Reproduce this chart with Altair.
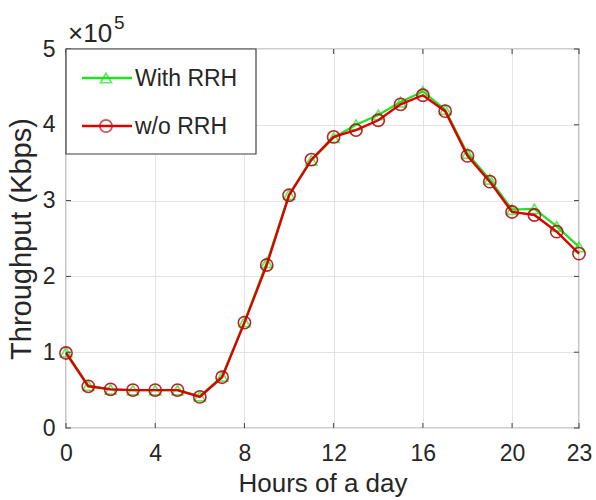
import altair as alt
import pandas as pd

hours = list(range(24))
with_rrh = [100000, 56000, 51000, 50000, 50000, 50000, 42000, 68000, 140000, 218000,
            308000, 353000, 383000, 400000, 413000, 430000, 444000, 420000, 362000,
            328000, 288000, 289000, 266000, 239000]
wo_rrh = [99000, 55000, 51000, 50000, 50000, 50000, 41000, 67000, 139000, 215000,
          307000, 354000, 384000, 393000, 406000, 427000, 439000, 418000, 359000,
          325000, 285000, 281000, 259000, 230000]
x_ticks = [0, 4, 8, 12, 16, 20, 23]
y_ticks = [0, 100000, 200000, 300000, 400000, 500000]
series_names = ["With RRH", "w/o RRH"]

GREEN = "#22e022"
RED = "#dd0000"
RED_MK = "#b01010"
AX = "#404040"
TXT = "#262626"
FONT = "Liberation Sans"
W, H = 513, 379

df_g = pd.DataFrame({"hour": hours, "tp": with_rrh})
df_r = pd.DataFrame({"hour": hours, "tp": wo_rrh})

xs = alt.Scale(domain=[0, 23], nice=False, zero=False)
ys = alt.Scale(domain=[0, 500000], nice=False)

x_enc = alt.X("hour:Q", scale=xs, axis=alt.Axis(
    values=x_ticks, title="Hours of a day", grid=True, gridColor="#e3e3e3",
    ticks=False, domain=False, labelPadding=14, titlePadding=5,
    labelFontSize=23, titleFontSize=26, labelFlush=False))
y_enc = alt.Y("tp:Q", scale=ys, axis=alt.Axis(
    values=y_ticks, labelExpr="datum.value / 100000", title="Throughput (Kbps)",
    grid=True, gridColor="#e3e3e3", ticks=False, domain=False, labelPadding=11,
    titlePadding=6, labelFontSize=23, titleFontSize=29))

base_g = alt.Chart(df_g)
base_r = alt.Chart(df_r)

line_g = base_g.mark_line(color=GREEN, strokeWidth=2.2).encode(x=x_enc, y=y_enc)
pts_g = base_g.mark_point(shape="triangle-up", color=GREEN, filled=False,
                          size=120, strokeWidth=1.7).encode(x="hour:Q", y="tp:Q")
line_r = base_r.mark_line(color=RED, strokeWidth=2.4).encode(x="hour:Q", y="tp:Q")
pts_r = base_r.mark_point(shape="circle", color=RED_MK, filled=False,
                          size=150, strokeWidth=1.6, opacity=0.9).encode(x="hour:Q", y="tp:Q")

# inward ticks on all four sides
xt = alt.Chart(pd.DataFrame({"v": x_ticks}))
yt = alt.Chart(pd.DataFrame({"v": y_ticks}))
tick_b = xt.mark_rule(color=AX).encode(x=alt.X("v:Q", scale=xs), y=alt.value(H), y2=alt.value(H - 5))
tick_t = xt.mark_rule(color=AX).encode(x=alt.X("v:Q", scale=xs), y=alt.value(0), y2=alt.value(5))
tick_l = yt.mark_rule(color=AX).encode(y=alt.Y("v:Q", scale=ys), x=alt.value(0), x2=alt.value(5))
tick_r = yt.mark_rule(color=AX).encode(y=alt.Y("v:Q", scale=ys), x=alt.value(W), x2=alt.value(W - 5))

# exponent annotation
exp_base = alt.Chart(pd.DataFrame({"t": ["×10"]})).mark_text(
    align="left", baseline="alphabetic", fontSize=26, font=FONT, color=TXT
).encode(text="t:N", x=alt.value(2), y=alt.value(-7))
exp_sup = alt.Chart(pd.DataFrame({"t": ["5"]})).mark_text(
    align="left", baseline="alphabetic", fontSize=19, font=FONT, color=TXT
).encode(text="t:N", x=alt.value(48), y=alt.value(-20))

# legend
leg_box = alt.Chart(pd.DataFrame({"a": [0]})).mark_rect(
    fill="white", stroke=AX, strokeWidth=1.2
).encode(x=alt.value(0), x2=alt.value(190), y=alt.value(0), y2=alt.value(105))
leg_df = pd.DataFrame({"name": series_names})
rows = []
for name, yy, col, shape, mk, sz in [
    (series_names[0], 29, GREEN, "triangle-up", GREEN, 120),
    (series_names[1], 77, RED, "circle", RED_MK, 150),
]:
    d = alt.Chart(leg_df[leg_df["name"] == name])
    rows.append(d.mark_rule(color=col, strokeWidth=2.4).encode(
        x=alt.value(16), x2=alt.value(66), y=alt.value(yy)))
    rows.append(d.mark_point(shape=shape, color=mk, filled=False, size=sz,
                             strokeWidth=1.7).encode(x=alt.value(40), y=alt.value(yy)))
    rows.append(d.mark_text(align="left", baseline="middle", fontSize=23, font=FONT,
                            color=TXT).encode(text="name:N", x=alt.value(69), y=alt.value(yy + 1)))

chart = alt.layer(
    line_g, pts_g, line_r, pts_r, tick_b, tick_t, tick_l, tick_r,
    exp_base, exp_sup, leg_box, *rows
).properties(
    width=W, height=H,
    autosize=alt.AutoSizeParams(type="none"),
    padding={"left": 66, "top": 49, "right": 17, "bottom": 72},
).configure_view(
    stroke=AX, strokeWidth=1.2
).configure_axis(
    labelFont=FONT, titleFont=FONT, labelColor=TXT, titleColor=TXT,
    titleFontWeight="normal"
)

chart.save("out.html", embed_options={"renderer": "svg", "actions": False})
